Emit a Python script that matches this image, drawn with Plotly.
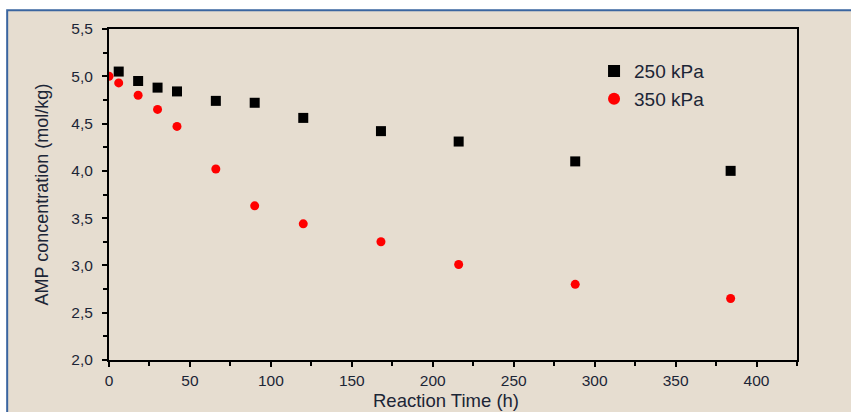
import plotly.graph_objects as go

time_250 = [6, 18, 30, 42, 66, 90, 120, 168, 216, 288, 384]
conc_250 = [5.05, 4.95, 4.88, 4.84, 4.74, 4.72, 4.56, 4.42, 4.31, 4.10, 4.00]
time_350 = [0, 6, 18, 30, 42, 66, 90, 120, 168, 216, 288, 384]
conc_350 = [5.00, 4.93, 4.80, 4.65, 4.47, 4.02, 3.63, 3.44, 3.25, 3.01, 2.80, 2.65]
x_ticks = [0, 50, 100, 150, 200, 250, 300, 350, 400]
y_ticks = [2.0, 2.5, 3.0, 3.5, 4.0, 4.5, 5.0, 5.5]

txt = "#1c2536"
font = "Liberation Sans, Arial, sans-serif"

fig = go.Figure()
fig.add_trace(go.Scatter(x=time_250, y=conc_250, mode="markers", name="250 kPa",
                         marker=dict(symbol="square", size=10, color="black"), cliponaxis=True))
fig.add_trace(go.Scatter(x=time_350, y=conc_350, mode="markers", name="350 kPa",
                         marker=dict(symbol="circle", size=9, color="#ff0000"), cliponaxis=True))

axis_common = dict(showline=True, linecolor="black", linewidth=2, mirror=True,
                   ticks="outside", ticklen=5, tickwidth=1.5, tickcolor="black",
                   showgrid=False, zeroline=False, automargin=False,
                   tickfont=dict(family=font, size=15.5, color=txt))

fig.update_xaxes(range=[0, 425], tickvals=x_ticks, ticklabelstandoff=0,
                 minor=dict(dtick=25, ticks="outside", ticklen=4, tickcolor="black", tickwidth=1.5),
                 **axis_common)
fig.update_yaxes(range=[2.0, 5.5], tickvals=y_ticks, tickformat=".1f", ticklabelstandoff=6,
                 minor=dict(dtick=0.25, ticks="outside", ticklen=4, tickcolor="black", tickwidth=1.5),
                 title=dict(text="AMP concentration (mol/kg)", font=dict(family=font, size=18, color=txt), standoff=18),
                 **axis_common)

fig.add_annotation(text="Reaction Time (h)", xref="paper", yref="paper", x=0.49, y=-0.121,
                   xanchor="center", yanchor="middle", showarrow=False,
                   font=dict(family=font, size=18.5, color=txt))

fig.add_shape(type="rect", xref="paper", yref="paper", x0=-0.148, x1=1.3, y0=-0.3, y1=1.057,
              line=dict(color="#3a65a0", width=2), fillcolor="#e6ddd0", layer="below")

fig.update_layout(width=851, height=412, margin=dict(l=109, r=54, t=29, b=52),
                  paper_bgcolor="white", plot_bgcolor="rgba(0,0,0,0)",
                  separators=",.",
                  font=dict(family=font, color=txt),
                  legend=dict(x=0.705, y=0.93, xanchor="left", yanchor="top",
                              bgcolor="rgba(0,0,0,0)", font=dict(family=font, size=19, color=txt),
                              itemsizing="constant", tracegroupgap=0),
                  showlegend=True)

fig.write_html("out.html")
